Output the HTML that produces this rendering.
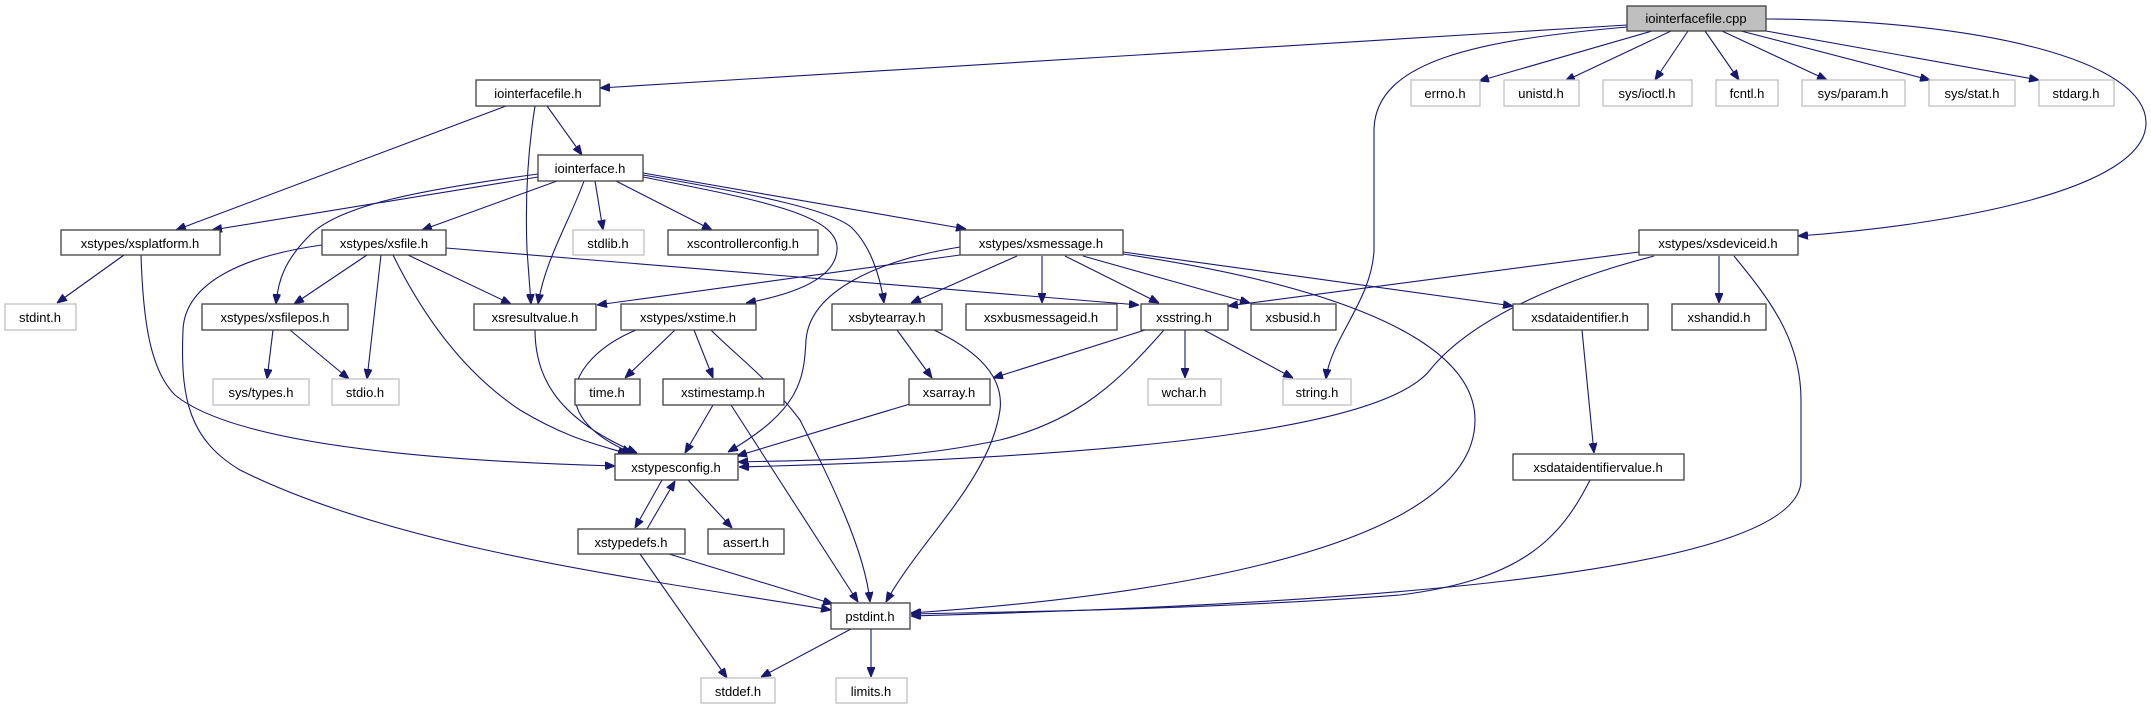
<!DOCTYPE html>
<html><head><meta charset="utf-8"><style>
html,body{margin:0;padding:0;background:#fff;}
svg{display:block;}
text{font-family:"Liberation Sans","DejaVu Sans",sans-serif;font-size:13px;fill:#000;text-anchor:middle;}
.n{fill:#fff;stroke:#404040;stroke-width:1.3;}
.g{fill:#fff;stroke:#bfbfbf;stroke-width:1.3;}
.e{fill:none;stroke:#191970;stroke-width:1.1;}
</style></head><body>
<svg width="2151" height="709" viewBox="0 0 2151 709" xmlns="http://www.w3.org/2000/svg">
<defs>
<marker id="a" viewBox="0 0 10 8" refX="10" refY="4" markerWidth="10" markerHeight="8" markerUnits="userSpaceOnUse" orient="auto">
<path d="M0,0 L10,4 L0,8 z" fill="#191970" stroke="#191970"/>
</marker>
</defs>
<g marker-end="url(#a)" class="e">
<!-- cpp -->
<path class="e" d="M1627,25 L600,88"/>
<path class="e" d="M1627,27 C1480,40 1375,60 1374,130 L1374,250 C1372,300 1330,340 1326,379"/>
<path class="e" d="M1652,31 L1479,81"/>
<path class="e" d="M1671,31 L1565,81"/>
<path class="e" d="M1688,31 L1655,80"/>
<path class="e" d="M1705,31 L1739,80"/>
<path class="e" d="M1722,31 L1827,80"/>
<path class="e" d="M1741,31 L1930,80"/>
<path class="e" d="M1766,31 L2039,80"/>
<path class="e" d="M1766,19 C1980,20 2146,60 2146,123 C2146,190 1950,225 1798,236"/>
<!-- iointerfacefile.h -->
<path class="e" d="M506,106 L176,230"/>
<path class="e" d="M535,106 C528,150 525,200 527,250 L531,304"/>
<path class="e" d="M547,106 L582,155"/>
<!-- iointerface.h -->
<path class="e" d="M538,177 L212,230"/>
<path class="e" d="M538,174 C420,190 340,205 310,235 C285,260 278,280 276,304"/>
<path class="e" d="M557,181 L422,230"/>
<path class="e" d="M584,181 C570,220 545,260 538,304"/>
<path class="e" d="M595,181 L603,230"/>
<path class="e" d="M616,181 L712,230"/>
<path class="e" d="M643,177 C760,200 840,215 837,250 C835,280 790,295 746,303"/>
<path class="e" d="M643,175 C760,195 830,210 851,227 C870,245 880,275 884,303"/>
<path class="e" d="M643,173 L966,229"/>
<!-- xsplatform -->
<path class="e" d="M124,255 L57,303"/>
<path class="e" d="M141,255 C143,320 150,370 175,395 C230,440 400,460 615,466"/>
<!-- xsfile -->
<path class="e" d="M322,245 C250,255 185,280 183,330 C180,400 190,440 240,470 C400,550 650,580 831,610"/>
<path class="e" d="M367,255 L294,304"/>
<path class="e" d="M381,255 L367,379"/>
<path class="e" d="M393,255 C420,310 460,370 520,410 C570,440 600,445 628,454"/>
<path class="e" d="M408,255 L511,304"/>
<path class="e" d="M446,248 L1139,305"/>
<!-- xsfilepos -->
<path class="e" d="M273,330 L267,379"/>
<path class="e" d="M290,330 L349,379"/>
<!-- xsresultvalue -->
<path class="e" d="M535,330 C535,380 560,420 637,453"/>
<!-- xstime -->
<path class="e" d="M636,330 C600,345 575,370 575,395 C575,420 600,440 632,453"/>
<path class="e" d="M675,330 L625,378"/>
<path class="e" d="M694,330 L713,378"/>
<path class="e" d="M711,330 C730,350 770,380 800,420 C830,480 865,550 870,602"/>
<!-- xstimestamp -->
<path class="e" d="M713,405 L685,453"/>
<path class="e" d="M731,405 L858,602"/>
<!-- xsmessage -->
<path class="e" d="M960,247 C880,260 810,290 806,340 C804,380 800,410 728,452"/>
<path class="e" d="M960,255 L597,305"/>
<path class="e" d="M1017,256 L911,303"/>
<path class="e" d="M1042,256 L1042,303"/>
<path class="e" d="M1065,256 L1159,303"/>
<path class="e" d="M1083,256 L1250,303"/>
<path class="e" d="M1123,254 C1300,280 1475,330 1475,420 C1475,560 1100,600 911,613"/>
<path class="e" d="M1123,252 L1513,306"/>
<!-- xsbytearray -->
<path class="e" d="M897,330 L932,378"/>
<path class="e" d="M934,330 C965,345 1005,370 1000,410 C990,480 920,540 886,602"/>
<!-- xsstring -->
<path class="e" d="M1145,330 L993,378"/>
<path class="e" d="M1164,330 C1120,380 1080,420 1000,440 C900,462 800,460 738,462"/>
<path class="e" d="M1185,330 L1185,378"/>
<path class="e" d="M1204,330 L1293,378"/>
<!-- xsarray -->
<path class="e" d="M910,404 L737,456"/>
<!-- xsdeviceid -->
<path class="e" d="M1639,252 L1228,306"/>
<path class="e" d="M1654,256 C1560,280 1470,320 1430,370 C1390,420 1200,455 739,467"/>
<path class="e" d="M1719,256 L1719,303"/>
<path class="e" d="M1734,256 C1770,300 1801,340 1801,400 L1801,480 C1801,580 1300,605 911,616"/>
<!-- xsdataidentifier -->
<path class="e" d="M1582,330 L1594,453"/>
<path class="e" d="M1590,480 C1560,540 1520,580 1400,595 C1200,610 1000,612 911,614"/>
<!-- xstypesconfig -->
<path class="e" d="M662,480 L635,528"/>
<path class="e" d="M688,480 L732,528"/>
<!-- xstypedefs -->
<path class="e" d="M647,529 L675,481"/>
<path class="e" d="M669,554 L833,604"/>
<path class="e" d="M640,554 L727,678"/>
<!-- pstdint -->
<path class="e" d="M851,629 L761,677"/>
<path class="e" d="M871,629 L871,677"/>
</g>

<!-- nodes -->
<rect x="1627" y="6" width="139" height="25" fill="#bfbfbf" stroke="#404040" stroke-width="1.3"/><text x="1696" y="23">iointerfacefile.cpp</text>

<rect class="n" x="476" y="80" width="124" height="26"/><text x="538" y="98">iointerfacefile.h</text>
<rect class="g" x="1411" y="80" width="69" height="26"/><text x="1445" y="98">errno.h</text>
<rect class="g" x="1504" y="80" width="75" height="26"/><text x="1541" y="98">unistd.h</text>
<rect class="g" x="1603" y="80" width="89" height="26"/><text x="1647" y="98">sys/ioctl.h</text>
<rect class="g" x="1716" y="80" width="62" height="26"/><text x="1747" y="98">fcntl.h</text>
<rect class="g" x="1802" y="80" width="103" height="26"/><text x="1853" y="98">sys/param.h</text>
<rect class="g" x="1929" y="80" width="86" height="26"/><text x="1972" y="98">sys/stat.h</text>
<rect class="g" x="2039" y="80" width="75" height="26"/><text x="2076" y="98">stdarg.h</text>

<rect class="n" x="538" y="155" width="105" height="26"/><text x="590" y="173">iointerface.h</text>

<rect class="n" x="61" y="230" width="159" height="25"/><text x="140" y="248">xstypes/xsplatform.h</text>
<rect class="n" x="322" y="230" width="124" height="25"/><text x="384" y="248">xstypes/xsfile.h</text>
<rect class="g" x="573" y="230" width="71" height="25"/><text x="608" y="248">stdlib.h</text>
<rect class="n" x="668" y="230" width="150" height="25"/><text x="743" y="248">xscontrollerconfig.h</text>
<rect class="n" x="960" y="230" width="163" height="25"/><text x="1041" y="248">xstypes/xsmessage.h</text>
<rect class="n" x="1639" y="230" width="159" height="25"/><text x="1718" y="248">xstypes/xsdeviceid.h</text>

<rect class="g" x="5" y="304" width="71" height="26"/><text x="40" y="322">stdint.h</text>
<rect class="n" x="202" y="304" width="146" height="26"/><text x="275" y="322">xstypes/xsfilepos.h</text>
<rect class="n" x="474" y="304" width="122" height="26"/><text x="535" y="322">xsresultvalue.h</text>
<rect class="n" x="621" y="304" width="135" height="26"/><text x="688" y="322">xstypes/xstime.h</text>
<rect class="n" x="832" y="304" width="110" height="26"/><text x="887" y="322">xsbytearray.h</text>
<rect class="n" x="966" y="304" width="151" height="26"/><text x="1041" y="322">xsxbusmessageid.h</text>
<rect class="n" x="1141" y="304" width="87" height="26"/><text x="1184" y="322">xsstring.h</text>
<rect class="n" x="1251" y="304" width="85" height="26"/><text x="1293" y="322">xsbusid.h</text>
<rect class="n" x="1513" y="304" width="135" height="26"/><text x="1580" y="322">xsdataidentifier.h</text>
<rect class="n" x="1672" y="304" width="94" height="26"/><text x="1719" y="322">xshandid.h</text>

<rect class="g" x="213" y="379" width="96" height="26"/><text x="261" y="397">sys/types.h</text>
<rect class="g" x="332" y="379" width="67" height="26"/><text x="365" y="397">stdio.h</text>
<rect class="n" x="575" y="379" width="65" height="26"/><text x="607" y="397">time.h</text>
<rect class="n" x="663" y="379" width="121" height="26"/><text x="723" y="397">xstimestamp.h</text>
<rect class="n" x="909" y="379" width="81" height="26"/><text x="949" y="397">xsarray.h</text>
<rect class="g" x="1148" y="379" width="73" height="26"/><text x="1184" y="397">wchar.h</text>
<rect class="g" x="1283" y="379" width="68" height="26"/><text x="1317" y="397">string.h</text>

<rect class="n" x="615" y="454" width="123" height="26"/><text x="676" y="472">xstypesconfig.h</text>
<rect class="n" x="1513" y="454" width="171" height="26"/><text x="1598" y="472">xsdataidentifiervalue.h</text>

<rect class="n" x="578" y="529" width="107" height="25"/><text x="631" y="547">xstypedefs.h</text>
<rect class="n" x="708" y="529" width="76" height="25"/><text x="746" y="547">assert.h</text>

<rect class="n" x="831" y="603" width="79" height="26"/><text x="870" y="621">pstdint.h</text>

<rect class="g" x="701" y="678" width="74" height="25"/><text x="738" y="696">stddef.h</text>
<rect class="g" x="836" y="678" width="71" height="25"/><text x="871" y="696">limits.h</text>
</svg>
</body></html>
